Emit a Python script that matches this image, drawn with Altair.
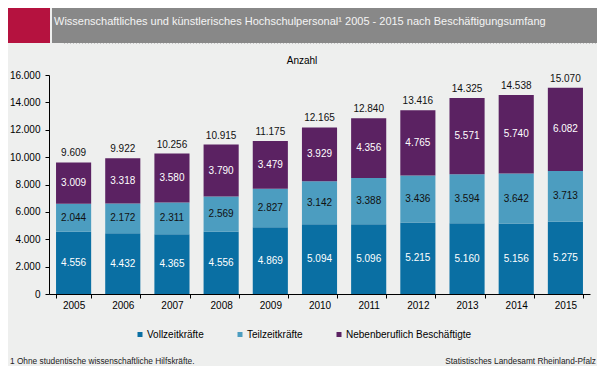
import altair as alt
import pandas as pd

FONT = "Liberation Sans"

years = ["2005", "2006", "2007", "2008", "2009", "2010", "2011", "2012", "2013", "2014", "2015"]
vollzeit = [4556, 4432, 4365, 4556, 4869, 5094, 5096, 5215, 5160, 5156, 5275]
teilzeit = [2044, 2172, 2311, 2569, 2827, 3142, 3388, 3436, 3594, 3642, 3713]
neben = [3009, 3318, 3580, 3790, 3479, 3929, 4356, 4765, 5571, 5740, 6082]
series = ["Vollzeitkräfte", "Teilzeitkräfte", "Nebenberuflich Beschäftigte"]
colors = ["#0A6FA3", "#4C9DC0", "#5B2262"]
y_ticks = [0, 2000, 4000, 6000, 8000, 10000, 12000, 14000, 16000]

TITLE = "Wissenschaftliches und künstlerisches Hochschulpersonal¹ 2005 - 2015 nach Beschäftigungsumfang"
FOOT_L = "1 Ohne studentische wissenschaftliche Hilfskräfte."
FOOT_R = "Statistisches Landesamt Rheinland-Pfalz"
UNIT = "Anzahl"

rows = []
for i, (name, vals) in enumerate(zip(series, [vollzeit, teilzeit, neben])):
    for yr, v in zip(years, vals):
        rows.append({"Jahr": yr, "Reihe": name, "Wert": v, "ord": i})
df = pd.DataFrame(rows)

DE = "replace(format({}, ','), ',', '.')"

yscale = alt.Scale(domain=[0, 16000], nice=False)
xscale = alt.Scale(paddingInner=0.286, paddingOuter=0.143)

x_axis = alt.Axis(title=None, labelAngle=0, tickBand="extent", tickSize=4,
                  tickColor="black", domainColor="black", labelFontSize=10,
                  labelColor="black", labelPadding=2, labelFont=FONT)
y_axis = alt.Axis(title=None, values=y_ticks, labelExpr=DE.format("datum.value"),
                  tickSize=4, tickColor="black", domainColor="black",
                  labelPadding=5, labelFontSize=10, labelColor="black",
                  labelFont=FONT, grid=False, labelOverlap=False)

X = alt.X("Jahr:O", sort=years, scale=xscale, axis=x_axis, title=None)

bars = alt.Chart(df).mark_bar(strokeWidth=0).encode(
    x=X,
    y=alt.Y("Wert:Q", stack="zero", scale=yscale, axis=y_axis, title=None),
    color=alt.Color("Reihe:N", scale=alt.Scale(domain=series, range=colors),
                    legend=alt.Legend(orient="none", legendX=86, legendY=254.5,
                                      direction="horizontal", title=None,
                                      symbolType="square", symbolSize=25,
                                      symbolStrokeWidth=0, labelFontSize=10,
                                      labelFont=FONT, labelColor="black",
                                      columnPadding=31, labelOffset=2, padding=0)),
    order=alt.Order("ord:Q", sort="ascending"),
)

stacked = alt.Chart(df).transform_stack(
    stack="Wert", groupby=["Jahr"], sort=[alt.SortField("ord", order="ascending")],
    as_=["v0", "v1"]
).transform_calculate(mid="(datum.v0 + datum.v1) / 2", lbl=DE.format("datum.Wert"))

lab_white = stacked.transform_filter("datum.ord != 1").mark_text(
    fontSize=10, font=FONT, color="#FFFFFF", baseline="middle").encode(
    x=X, y=alt.Y("mid:Q", scale=yscale, axis=y_axis, title=None), text="lbl:N")
lab_dark = stacked.transform_filter("datum.ord == 1").mark_text(
    fontSize=10, font=FONT, color="#111111", baseline="middle").encode(
    x=X, y=alt.Y("mid:Q", scale=yscale, axis=y_axis, title=None), text="lbl:N")

totals = alt.Chart(df).transform_aggregate(
    total="sum(Wert)", groupby=["Jahr"]
).transform_calculate(lbl=DE.format("datum.total")).mark_text(
    fontSize=10, font=FONT, color="#111111", baseline="middle", dy=-9).encode(
    x=X, y=alt.Y("total:Q", scale=yscale, axis=y_axis, title=None), text="lbl:N")

deco = alt.Chart(pd.DataFrame({"a": [0]}))
head_red = deco.mark_rect(color="#B5123F").encode(
    x=alt.value(-41), x2=alt.value(1), y=alt.value(-67), y2=alt.value(-32))
head_grey = deco.mark_rect(color="#888888").encode(
    x=alt.value(3), x2=alt.value(548), y=alt.value(-67), y2=alt.value(-32))
head_dots = deco.mark_rule(color="#C4C4C4", strokeDash=[1, 2]).encode(
    x=alt.value(15), x2=alt.value(548), y=alt.value(-31.5))
head_text = deco.mark_text(align="left", baseline="middle", fontSize=11, font=FONT,
                           color="#F4F4F4").encode(
    x=alt.value(5), y=alt.value(-53), text=alt.value(TITLE))
unit_text = deco.mark_text(align="center", baseline="middle", fontSize=10, font=FONT,
                           color="black").encode(
    x=alt.value(253), y=alt.value(-14), text=alt.value(UNIT))
foot_l = deco.mark_text(align="left", baseline="middle", fontSize=8.3, font=FONT,
                        color="#222222").encode(
    x=alt.value(-39), y=alt.value(287), text=alt.value(FOOT_L))
foot_r = deco.mark_text(align="right", baseline="middle", fontSize=8.3, font=FONT,
                        color="#222222").encode(
    x=alt.value(547), y=alt.value(287), text=alt.value(FOOT_R))

chart = alt.layer(
    head_red, head_grey, head_dots, head_text, unit_text,
    bars, lab_white, lab_dark, totals, foot_l, foot_r
).properties(
    width=541, height=219,
    autosize=alt.AutoSizeParams(type="none"),
    padding={"left": 41, "top": 67, "right": 7, "bottom": 72},
    background="#EEEFEE",
).configure_view(stroke=None)

chart.save("out.html", embed_options={"renderer": "svg", "actions": False})
